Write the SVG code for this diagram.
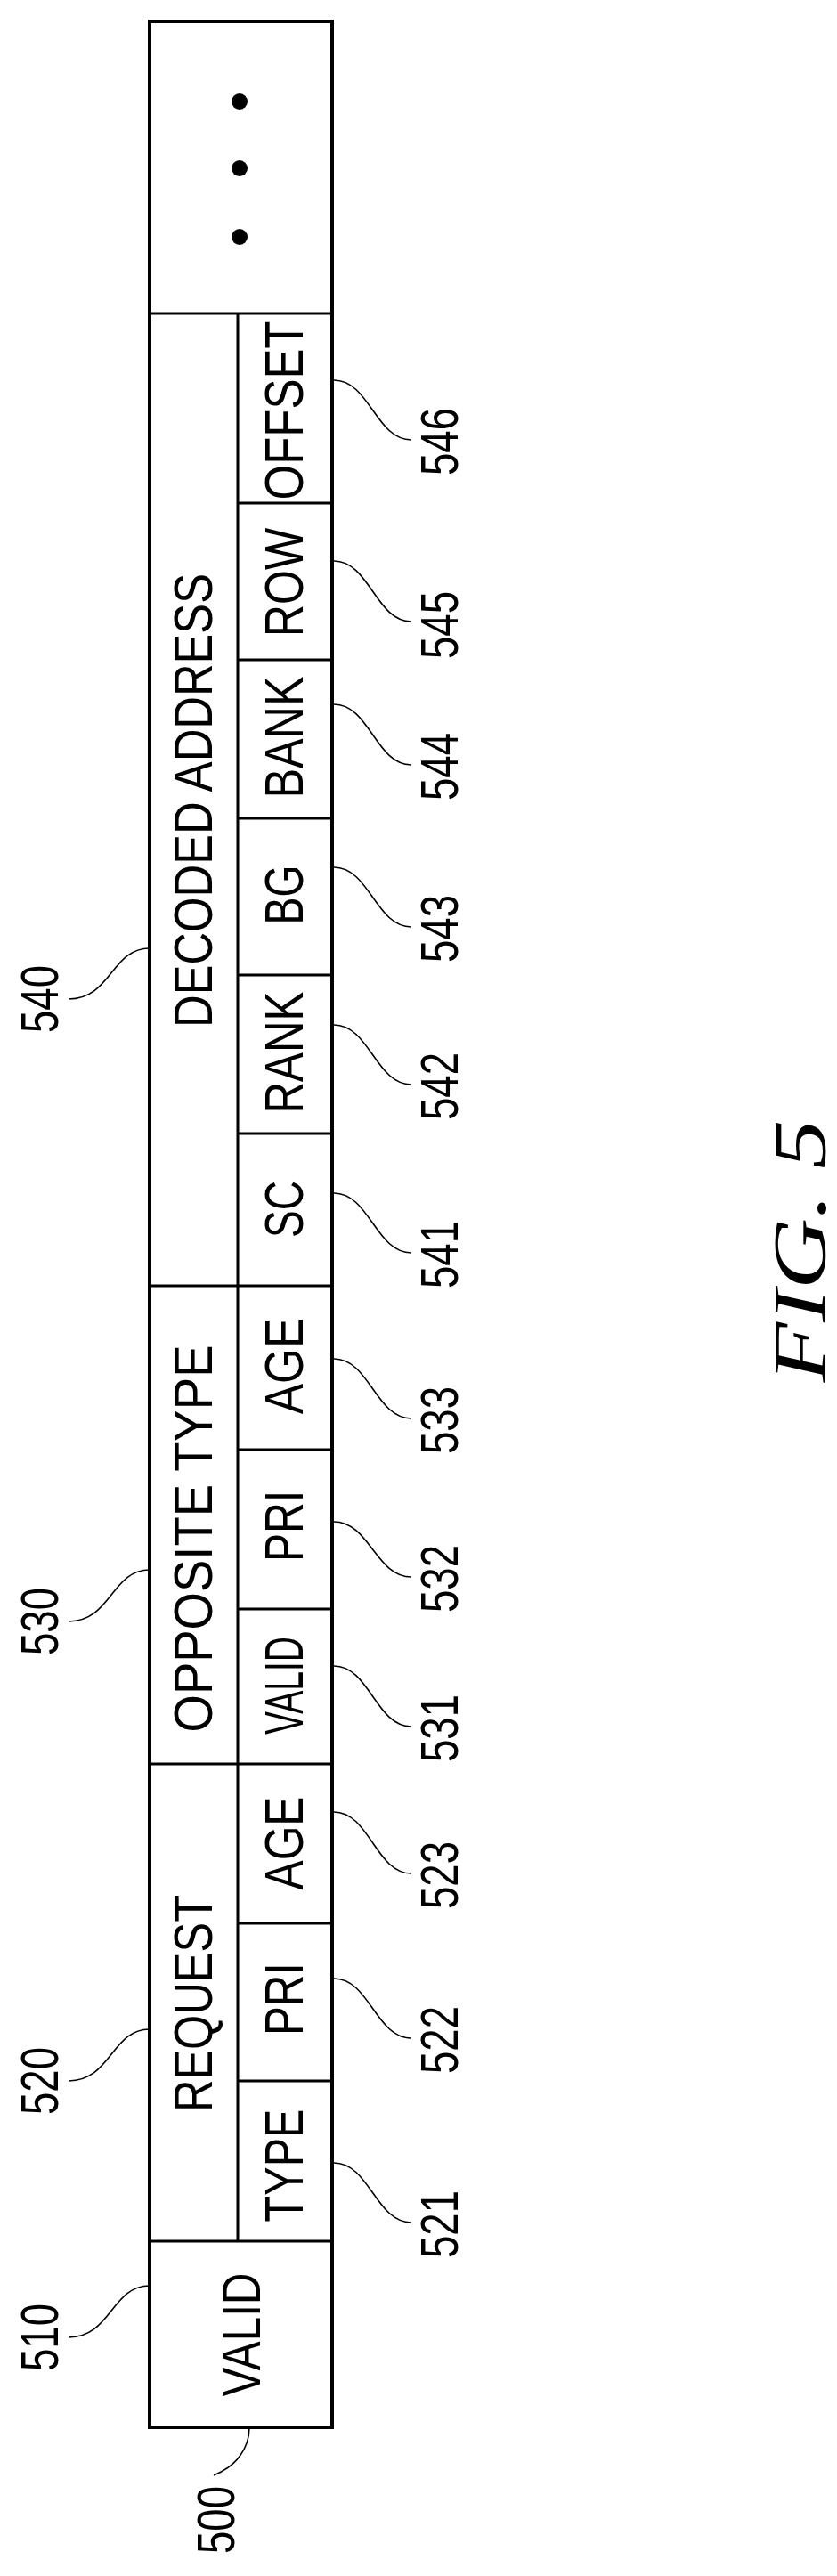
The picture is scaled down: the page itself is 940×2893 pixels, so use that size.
<svg xmlns="http://www.w3.org/2000/svg" width="940" height="2893" viewBox="0 0 940 2893">
<style>
.t{font-family:"Liberation Sans",Arial,sans-serif;font-size:62px;fill:#000;text-anchor:middle}
.n{font-family:"Liberation Sans",Arial,sans-serif;font-size:60px;fill:#000;text-anchor:middle}
.f{font-family:"Liberation Serif","Times New Roman",serif;font-style:italic;font-size:84px;fill:#000;text-anchor:middle}
.o{fill:none;stroke:#000;stroke-width:4}
.l{fill:none;stroke:#000;stroke-width:3}
.c{fill:none;stroke:#000;stroke-width:1.6}
</style>
<rect width="940" height="2893" fill="#fff"/>
<g id="record">
<rect class="o" x="168" y="24" width="205" height="2702"/>
<line class="l" x1="168" y1="352" x2="373" y2="352"/>
<line class="l" x1="168" y1="1444" x2="373" y2="1444"/>
<line class="l" x1="168" y1="1981" x2="373" y2="1981"/>
<line class="l" x1="168" y1="2517" x2="373" y2="2517"/>
<line class="l" x1="267" y1="352" x2="267" y2="2517"/>
<line class="l" x1="267" y1="565" x2="373" y2="565"/>
<line class="l" x1="267" y1="741" x2="373" y2="741"/>
<line class="l" x1="267" y1="919" x2="373" y2="919"/>
<line class="l" x1="267" y1="1095" x2="373" y2="1095"/>
<line class="l" x1="267" y1="1273" x2="373" y2="1273"/>
<line class="l" x1="267" y1="1628" x2="373" y2="1628"/>
<line class="l" x1="267" y1="1807" x2="373" y2="1807"/>
<line class="l" x1="267" y1="2160" x2="373" y2="2160"/>
<line class="l" x1="267" y1="2337" x2="373" y2="2337"/>
</g>
<g id="more">
<circle cx="269" cy="114" r="9"/><circle cx="269" cy="189" r="9"/><circle cx="269" cy="266" r="9"/>
</g>
<g id="labels">
<text class="t" transform="translate(238,899) rotate(-90)" textLength="510" lengthAdjust="spacingAndGlyphs">DECODED ADDRESS</text>
<text class="t" transform="translate(238,1728) rotate(-90)" textLength="435" lengthAdjust="spacingAndGlyphs">OPPOSITE TYPE</text>
<text class="t" transform="translate(238,2250) rotate(-90)" textLength="244" lengthAdjust="spacingAndGlyphs">REQUEST</text>
<text class="t" transform="translate(292,2622) rotate(-90)" textLength="139" lengthAdjust="spacingAndGlyphs">VALID</text>
<text class="t" transform="translate(340,461) rotate(-90)" textLength="201" lengthAdjust="spacingAndGlyphs">OFFSET</text>
<text class="t" transform="translate(340,654) rotate(-90)" textLength="122" lengthAdjust="spacingAndGlyphs">ROW</text>
<text class="t" transform="translate(340,828) rotate(-90)" textLength="137" lengthAdjust="spacingAndGlyphs">BANK</text>
<text class="t" transform="translate(340,1005) rotate(-90)" textLength="67" lengthAdjust="spacingAndGlyphs">BG</text>
<text class="t" transform="translate(340,1182) rotate(-90)" textLength="137" lengthAdjust="spacingAndGlyphs">RANK</text>
<text class="t" transform="translate(340,1358) rotate(-90)" textLength="64" lengthAdjust="spacingAndGlyphs">SC</text>
<text class="t" transform="translate(340,1534) rotate(-90)" textLength="108" lengthAdjust="spacingAndGlyphs">AGE</text>
<text class="t" transform="translate(340,1714) rotate(-90)" textLength="80" lengthAdjust="spacingAndGlyphs">PRI</text>
<text class="t" transform="translate(340,1893) rotate(-90)" textLength="110" lengthAdjust="spacingAndGlyphs">VALID</text>
<text class="t" transform="translate(340,2070) rotate(-90)" textLength="105" lengthAdjust="spacingAndGlyphs">AGE</text>
<text class="t" transform="translate(340,2245) rotate(-90)" textLength="82" lengthAdjust="spacingAndGlyphs">PRI</text>
<text class="t" transform="translate(340,2432) rotate(-90)" textLength="127" lengthAdjust="spacingAndGlyphs">TYPE</text>
</g>
<g id="connectors">
<path class="c" d="M375,427 C415,427 422,494 462,494"/>
<path class="c" d="M375,630 C415,630 422,698 462,698"/>
<path class="c" d="M375,791 C415,791 422,859 462,859"/>
<path class="c" d="M375,974 C415,974 422,1041 462,1041"/>
<path class="c" d="M375,1151 C415,1151 422,1218 462,1218"/>
<path class="c" d="M375,1340 C415,1340 422,1407 462,1407"/>
<path class="c" d="M375,1526 C415,1526 422,1593 462,1593"/>
<path class="c" d="M375,1709 C415,1709 422,1771 462,1771"/>
<path class="c" d="M375,1871 C415,1871 422,1939 462,1939"/>
<path class="c" d="M375,2035 C415,2035 422,2104 462,2104"/>
<path class="c" d="M375,2222 C415,2222 422,2289 462,2289"/>
<path class="c" d="M375,2429 C415,2429 422,2496 462,2496"/>
<path class="c" d="M77,1122 C125,1122 125,1065 168,1065"/>
<path class="c" d="M77,1821 C125,1821 125,1763 168,1763"/>
<path class="c" d="M77,2337 C125,2337 125,2279 168,2279"/>
<path class="c" d="M77,2625 C125,2625 125,2567 168,2567"/>
<path class="c" d="M240,2780 C265,2770 280,2750 280,2726"/>
</g>
<g id="refs">
<text class="n" transform="translate(514,496) rotate(-90)" textLength="76" lengthAdjust="spacingAndGlyphs">546</text>
<text class="n" transform="translate(514,702) rotate(-90)" textLength="76" lengthAdjust="spacingAndGlyphs">545</text>
<text class="n" transform="translate(514,861) rotate(-90)" textLength="76" lengthAdjust="spacingAndGlyphs">544</text>
<text class="n" transform="translate(514,1043) rotate(-90)" textLength="76" lengthAdjust="spacingAndGlyphs">543</text>
<text class="n" transform="translate(514,1220) rotate(-90)" textLength="76" lengthAdjust="spacingAndGlyphs">542</text>
<text class="n" transform="translate(514,1409) rotate(-90)" textLength="76" lengthAdjust="spacingAndGlyphs">541</text>
<text class="n" transform="translate(514,1595) rotate(-90)" textLength="76" lengthAdjust="spacingAndGlyphs">533</text>
<text class="n" transform="translate(514,1773) rotate(-90)" textLength="76" lengthAdjust="spacingAndGlyphs">532</text>
<text class="n" transform="translate(514,1941) rotate(-90)" textLength="76" lengthAdjust="spacingAndGlyphs">531</text>
<text class="n" transform="translate(514,2106) rotate(-90)" textLength="76" lengthAdjust="spacingAndGlyphs">523</text>
<text class="n" transform="translate(514,2291) rotate(-90)" textLength="76" lengthAdjust="spacingAndGlyphs">522</text>
<text class="n" transform="translate(514,2498) rotate(-90)" textLength="76" lengthAdjust="spacingAndGlyphs">521</text>
<text class="n" transform="translate(65,1122) rotate(-90)" textLength="76" lengthAdjust="spacingAndGlyphs">540</text>
<text class="n" transform="translate(65,1821) rotate(-90)" textLength="76" lengthAdjust="spacingAndGlyphs">530</text>
<text class="n" transform="translate(65,2337) rotate(-90)" textLength="76" lengthAdjust="spacingAndGlyphs">520</text>
<text class="n" transform="translate(65,2625) rotate(-90)" textLength="76" lengthAdjust="spacingAndGlyphs">510</text>
<text class="n" transform="translate(263,2830) rotate(-90)" textLength="76" lengthAdjust="spacingAndGlyphs">500</text>
<text class="f" transform="translate(927,1405) rotate(-90)" textLength="295" lengthAdjust="spacingAndGlyphs">FIG. 5</text>
</g>
</svg>
